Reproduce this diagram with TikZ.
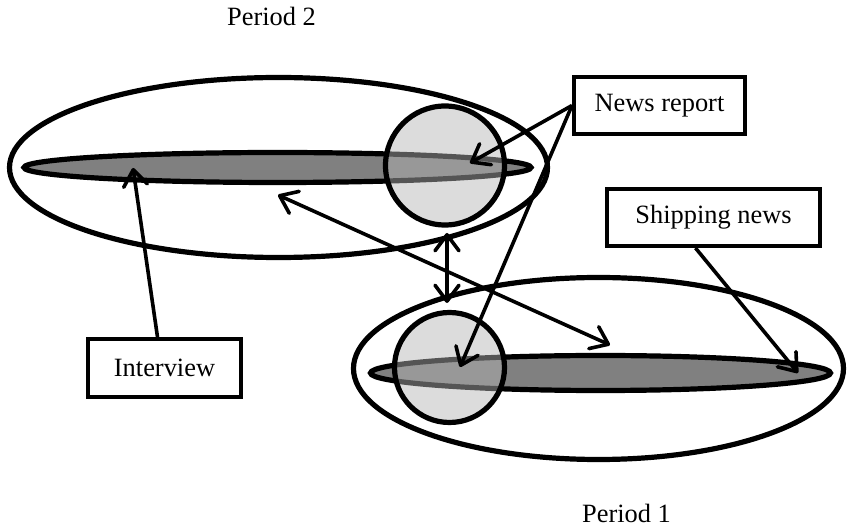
\documentclass[tikz,border=0pt]{standalone}
\usepackage{fontspec}
\setmainfont{Liberation Serif}
\usetikzlibrary{shapes.geometric,arrows.meta}
\definecolor{darkfill}{RGB}{128,128,128}
\definecolor{circfill}{RGB}{181,181,181}
\begin{document}
\begin{tikzpicture}[x=0.5pt,y=-0.5pt,
  bigell/.style={ellipse,draw,line width=2.6pt,inner sep=0pt},
  darkell/.style={ellipse,draw,line width=2.6pt,fill=darkfill,inner sep=0pt},
  circ/.style={circle,draw,line width=2.6pt,fill=circfill,fill opacity=0.47,draw opacity=1,inner sep=0pt},
  labelbox/.style={rectangle,draw,line width=2pt,inner sep=0pt,font=\fontsize{13.2}{15}\selectfont},
  plain/.style={inner sep=0pt,font=\fontsize{13.2}{15}\selectfont},
  arr/.style={line width=1.8pt,-{Straight Barb[length=8pt,width=12pt,round]}},
  darr/.style={line width=1.8pt,{Straight Barb[length=8pt,width=12pt,round]}-{Straight Barb[length=8pt,width=12pt,round]}}
]
\useasboundingbox (0,0) rectangle (848,529);

% Period 2
\node[bigell,minimum width=269pt,minimum height=90pt] (big2) at (278.5,167.5) {};
\node[darkell,minimum width=253.5pt,minimum height=15pt] (dark2) at (277.5,167.5) {};
\node[circ,minimum size=59.5pt] (c2) at (445,165.5) {};

% Period 1
\node[bigell,minimum width=245pt,minimum height=91pt] (big1) at (598.5,368.5) {};
\node[darkell,minimum width=230pt,minimum height=17.5pt] (dark1) at (600.5,373) {};
\node[circ,minimum size=55pt] (c1) at (449.5,367.5) {};

% labels
\node[plain,anchor=base] (p2) at (271.5,26) {Period 2};
\node[plain,anchor=base] (p1) at (626.5,523) {Period 1};

\node[labelbox,minimum width=85.5pt,minimum height=28.5pt] (news) at (659.5,105.5) {News report};
\node[labelbox,minimum width=106.5pt,minimum height=28.5pt] (ship) at (713.5,217.5) {Shipping news};
\node[labelbox,minimum width=76.5pt,minimum height=29pt] (inter) at (164.5,368) {Interview};

% arrow end points
\coordinate (tNews2) at (470,163);
\coordinate (tNews1) at (460,367);
\coordinate (tShip) at (798,373);
\coordinate (tInter) at (133,168);
\coordinate (dA) at (278,195);
\coordinate (dB) at (610,345);
\coordinate (vA) at (447,233);
\coordinate (vB) at (447,303);

\draw[arr] (news.west) -- (tNews2);
\draw[arr] (news.west) -- (tNews1);
\draw[arr] ([xshift=-9pt]ship.south) -- (tShip);
\draw[arr] ([xshift=-3.5pt]inter.north) -- (tInter);
\draw[darr] (dA) -- (dB);
\draw[darr] (vA) -- (vB);
\end{tikzpicture}
\end{document}
